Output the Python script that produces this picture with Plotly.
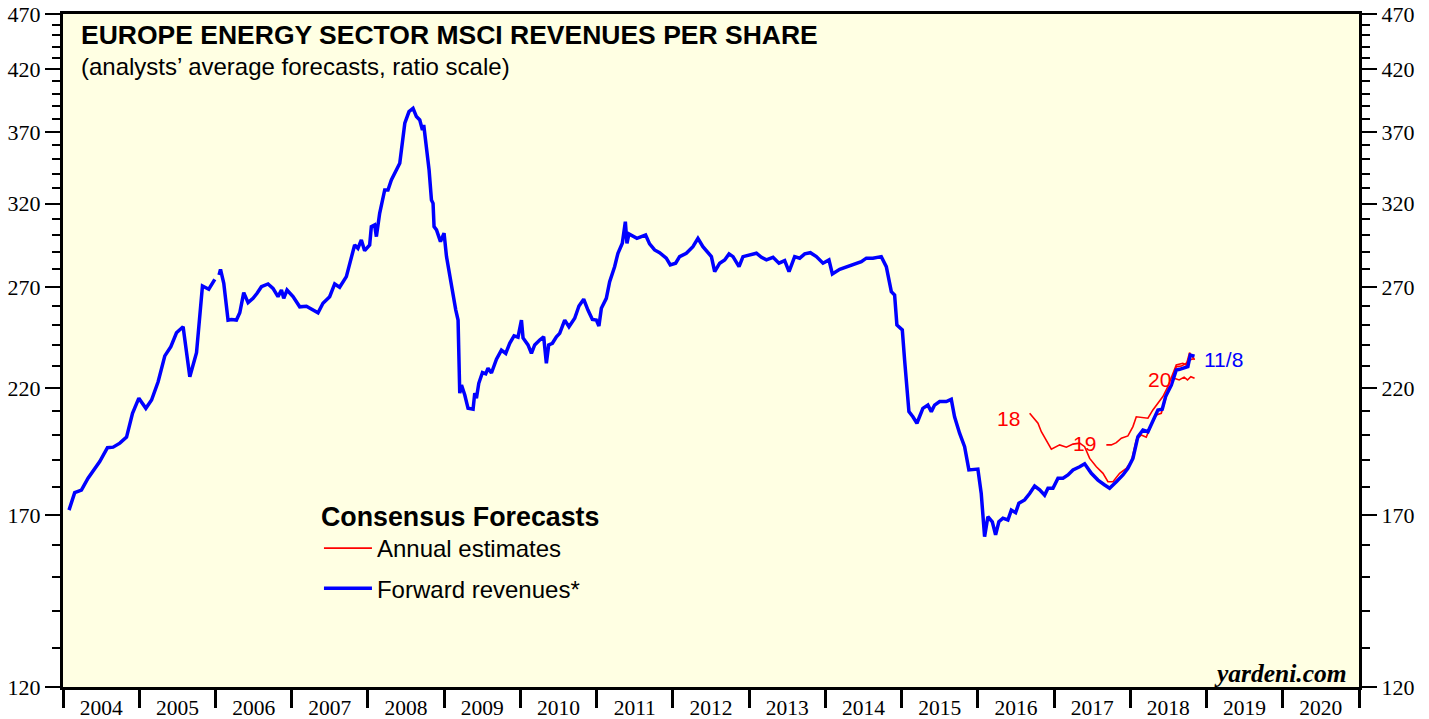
import math
from datetime import datetime
import plotly.graph_objects as go

# Forward revenues (blue), time as decimal year, None = gap in the line
fwd_t = [2004.079, 2004.153, 2004.241, 2004.328, 2004.481, 2004.582, 2004.656, 2004.744,
         2004.832, 2004.910, 2004.993, 2005.085, 2005.160, 2005.246, 2005.334, 2005.413,
         2005.487, 2005.574, 2005.662, 2005.750, 2005.828, 2005.911, 2005.990, None,
         2006.046, 2006.065, 2006.108, 2006.164, 2006.209, 2006.274, 2006.318, 2006.370,
         2006.427, 2006.492, 2006.545, 2006.602, 2006.689, 2006.754, 2006.820, 2006.865,
         2006.895, 2006.938, 2007.017, 2007.105, 2007.193, 2007.279, 2007.345, 2007.410,
         2007.498, 2007.564, 2007.629, 2007.717, 2007.761, 2007.826, 2007.869, 2007.914,
         2007.957, 2008.023, 2008.045, 2008.088, 2008.111, 2008.154, 2008.220, 2008.263,
         2008.307, 2008.350, 2008.417, 2008.483, 2008.538, 2008.591, 2008.635, 2008.679,
         2008.714, 2008.731, 2008.767, 2008.801, 2008.832, 2008.853, 2008.866, 2008.898,
         2008.950, 2008.997, 2009.029, 2009.072, 2009.107, 2009.151, 2009.181, 2009.203,
         2009.226, 2009.269, 2009.312, 2009.378, 2009.400, 2009.422, 2009.453, 2009.501,
         2009.544, 2009.574, 2009.619, 2009.685, 2009.750, 2009.807, 2009.859, 2009.916,
         2009.968, 2010.013, 2010.034, 2010.099, 2010.144, 2010.187, 2010.253, 2010.305,
         2010.340, 2010.371, 2010.419, 2010.472, 2010.515, 2010.581, 2010.637, 2010.712,
         2010.768, 2010.830, 2010.886, 2010.944, 2010.996, 2011.030, 2011.062, 2011.127,
         2011.171, 2011.236, 2011.280, 2011.337, 2011.377, 2011.398, 2011.424, 2011.476,
         2011.529, 2011.587, 2011.643, 2011.695, 2011.761, 2011.827, 2011.914, 2011.967,
         2012.037, 2012.089, 2012.177, 2012.263, 2012.329, 2012.394, 2012.460, 2012.505,
         2012.548, 2012.614, 2012.679, 2012.736, 2012.788, 2012.867, 2012.919, 2013.007,
         2013.095, 2013.161, 2013.226, 2013.313, 2013.391, 2013.466, 2013.523, 2013.597,
         2013.663, 2013.729, 2013.803, 2013.882, 2013.969, 2014.047, 2014.092, 2014.188,
         2014.275, 2014.362, 2014.472, 2014.538, 2014.624, 2014.734, 2014.800, 2014.866,
         2014.909, 2014.939, 2015.010, 2015.040, 2015.097, 2015.149, 2015.202, 2015.280,
         2015.346, 2015.391, 2015.434, 2015.500, 2015.587, 2015.653, 2015.696, 2015.762,
         2015.828, 2015.884, 2016.002, 2016.046, 2016.090, 2016.133, 2016.191, 2016.234,
         2016.277, 2016.330, 2016.395, 2016.440, 2016.496, 2016.539, 2016.614, 2016.680,
         2016.745, 2016.811, 2016.876, 2016.920, 2016.985, 2017.051, 2017.117, 2017.182,
         2017.248, 2017.336, 2017.401, 2017.489, 2017.576, 2017.664, 2017.729, 2017.817,
         2017.904, 2017.969, 2018.035, 2018.100, 2018.166, 2018.232, 2018.297, 2018.363,
         2018.420, 2018.464, 2018.539, 2018.604, 2018.648, 2018.714, 2018.756, 2018.788,
         2018.844]
fwd_v = [171.8, 178.0, 178.9, 183.3, 189.6, 195.0, 195.2, 196.8,
         199.2, 209.1, 215.6, 211.2, 214.8, 222.9, 234.9, 239.3,
         246.2, 249.2, 225.2, 236.4, 270.7, 268.9, 274.4, None,
         276.8, 280.0, 272.2, 252.6, 252.9, 252.6, 256.4, 267.1,
         261.7, 264.0, 266.7, 270.3, 271.8, 269.4, 264.9, 268.5,
         264.0, 268.5, 264.9, 259.5, 259.8, 257.8, 256.4, 261.4,
         264.9, 271.8, 270.0, 275.9, 282.5, 294.2, 292.2, 297.2,
         290.8, 294.2, 305.3, 306.4, 299.2, 313.7, 328.9, 328.9,
         335.7, 340.0, 347.2, 376.6, 385.6, 388.2, 381.7, 379.1,
         371.5, 375.3, 356.7, 342.5, 322.3, 320.1, 305.3, 303.3,
         296.2, 301.3, 287.3, 275.9, 267.6, 257.8, 252.6, 217.8,
         221.4, 217.0, 211.2, 210.8, 217.8, 215.6, 222.2, 227.1,
         226.5, 229.1, 226.9, 233.3, 237.7, 236.1, 241.0, 244.6,
         244.0, 252.6, 243.6, 240.2, 236.1, 240.2, 242.6, 244.2,
         231.4, 240.2, 241.0, 244.2, 245.9, 252.6, 249.2, 253.5,
         259.9, 263.5, 257.8, 252.9, 252.6, 249.6, 258.7, 264.0,
         273.1, 281.5, 289.3, 295.2, 308.4, 295.2, 300.8, 299.2,
         298.2, 299.2, 300.2, 294.8, 291.2, 289.6, 286.4, 282.5,
         283.5, 287.3, 289.3, 293.2, 298.2, 293.2, 289.6, 287.3,
         278.7, 283.5, 285.4, 288.9, 287.3, 281.5, 287.3, 288.3,
         289.3, 286.9, 285.4, 286.9, 283.5, 285.0, 278.7, 287.3,
         286.4, 288.9, 289.6, 287.3, 283.5, 285.4, 277.4, 280.0,
         281.5, 282.5, 284.4, 286.4, 286.4, 287.3, 281.5, 267.6,
         265.8, 250.1, 247.6, 233.0, 209.8, 207.6, 204.9, 211.2,
         212.6, 209.8, 212.6, 214.1, 214.1, 215.1, 207.6, 200.8,
         195.4, 186.4, 186.7, 177.7, 162.8, 169.5, 167.8, 163.4,
         167.8, 169.0, 168.4, 171.8, 170.9, 174.2, 175.4, 177.7,
         180.4, 179.0, 177.1, 179.6, 179.6, 183.3, 183.3, 184.5,
         186.4, 187.6, 188.7, 185.1, 182.6, 180.8, 179.6, 182.0,
         184.5, 187.0, 190.8, 199.4, 202.1, 201.4, 206.3, 210.5,
         210.8, 216.3, 221.4, 228.3, 228.6, 229.5, 229.8, 235.3,
         234.8]

# Annual estimates (red)
est18_t = [2016.680, 2016.723, 2016.789, 2016.833, 2016.899, 2016.964, 2017.073, 2017.161,
           2017.248, 2017.336, 2017.401, 2017.467, 2017.555, 2017.642, 2017.707, 2017.773,
           2017.860, 2017.948, 2018.014, 2018.079, 2018.145, 2018.210, 2018.276, 2018.341,
           2018.407, 2018.473, 2018.551, 2018.604, 2018.670, 2018.735, 2018.778, 2018.844]
est18_v = [209.1, 207.4, 204.9, 201.4, 198.1, 194.4, 196.1, 195.2,
           196.4, 196.8, 195.4, 190.8, 187.6, 185.1, 182.0, 182.0,
           185.1, 187.0, 189.6, 198.1, 200.1, 199.2, 204.2, 208.4,
           209.1, 216.3, 223.7, 229.8, 230.1, 231.4, 233.0, 233.7]
est19_t = [2017.686, 2017.751, 2017.817, 2017.883, 2017.969, 2018.035, 2018.079, 2018.166,
           2018.232, 2018.297, 2018.363, 2018.428, 2018.494, 2018.559, 2018.604, 2018.690,
           2018.735, 2018.778, 2018.844]
est19_v = [196.1, 196.1, 197.0, 198.8, 199.7, 203.5, 207.6, 207.4,
           207.0, 210.5, 213.4, 216.3, 220.7, 226.8, 230.6, 231.4,
           230.6, 236.4, 233.0]
est20_t = [2018.576, 2018.642, 2018.707, 2018.751, 2018.795, 2018.844]
est20_v = [224.5, 223.7, 225.0, 223.7, 225.2, 224.5]

y_major = [120, 170, 220, 270, 320, 370, 420, 470]
y_minor = [v for v in range(120, 471, 10) if v not in y_major]

# series labels: (text, decimal year, value, anchor, colour)
labels = [("18", 2016.575, 206.7, "right", "#FF0000"),
          ("19", 2017.571, 196.7, "right", "#FF0000"),
          ("20", 2018.555, 224.1, "right", "#FF0000"),
          ("11/8", 2018.948, 233.4, "left", "#0000FF")]


def to_date(y):
    if y is None:
        return None
    yr = int(y)
    a = datetime(yr, 1, 1)
    b = datetime(yr + 1, 1, 1)
    return a + (b - a) * (y - yr)


est_t = est18_t + [None] + est19_t + [None] + est20_t
est_v = est18_v + [None] + est19_v + [None] + est20_v

fig = go.Figure()
fig.add_trace(go.Scatter(x=[to_date(t) for t in est_t], y=est_v, mode="lines",
                         name="Annual estimates", connectgaps=False, legendgroup="a",
                         line=dict(color="#FF0000", width=1.6)))
fig.add_trace(go.Scatter(x=[to_date(t) for t in fwd_t], y=fwd_v, mode="lines",
                         name="Forward revenues*", connectgaps=False, legendgroup="b",
                         line=dict(color="#0000FF", width=3.5)))
# empty trace so the right-hand axis gets drawn
fig.add_trace(go.Scatter(x=[to_date(fwd_t[0])], y=[fwd_v[0]], yaxis="y2", mode="lines",
                         showlegend=False, hoverinfo="skip", line=dict(width=0)))

for txt, t, v, anchor, col in labels:
    fig.add_annotation(x=to_date(t), y=math.log10(v), text=txt, showarrow=False,
                       xanchor=anchor, yanchor="middle",
                       font=dict(family="Liberation Sans", size=21, color=col))

fig.add_annotation(xref="paper", yref="paper", x=0.012, y=0.969, xanchor="left",
                   yanchor="middle", showarrow=False,
                   text="<b>EUROPE ENERGY SECTOR MSCI REVENUES PER SHARE</b>",
                   font=dict(family="Liberation Sans", size=26.5, color="black"))
fig.add_annotation(xref="paper", yref="paper", x=0.012, y=0.9227, xanchor="left",
                   yanchor="middle", showarrow=False,
                   text="(analysts\u2019 average forecasts, ratio scale)",
                   font=dict(family="Liberation Sans", size=24, color="black"))
fig.add_annotation(xref="paper", yref="paper", x=0.9925, y=0.0208, xanchor="right",
                   yanchor="middle", showarrow=False, text="<b><i>yardeni.com</i></b>",
                   font=dict(family="Liberation Serif", size=25.5, color="black"))

axis_common = dict(showline=True, linewidth=3, linecolor="black", showgrid=False,
                   zeroline=False, ticks="outside", tickcolor="black", automargin=False,
                   ticklabeloverflow="allow")
yaxis_common = dict(axis_common, type="log", range=[math.log10(120), math.log10(470)],
                    tickmode="array", tickvals=y_major, ticklen=15, tickwidth=2,
                    tickfont=dict(family="Liberation Serif", size=22, color="black"),
                    minor=dict(tickmode="array", tickvals=y_minor, ticklen=8,
                               tickwidth=2, ticks="outside", tickcolor="black",
                               showgrid=False))

fig.update_layout(
    width=1429, height=719,
    margin=dict(l=63, r=70, t=14, b=32),
    paper_bgcolor="white", plot_bgcolor="#FFFFE3",
    xaxis=dict(axis_common, type="date", range=["2004-01-01", "2021-01-01"],
               mirror=True, tick0="2004-01-01", dtick="M12", tickformat="%Y",
               ticklabelmode="period", ticklen=18, tickwidth=2.5,
               ticklabelstandoff=-19,
               tickfont=dict(family="Liberation Serif", size=21.5, color="black")),
    yaxis=dict(yaxis_common, mirror=True, side="left"),
    yaxis2=dict(yaxis_common, overlaying="y", side="right"),
    legend=dict(x=0.1975, y=0.291, xanchor="left", yanchor="top",
                bgcolor="rgba(0,0,0,0)", itemwidth=48, tracegroupgap=6,
                title=dict(text="<b>Consensus Forecasts</b>",
                           font=dict(family="Liberation Sans", size=26.8, color="black")),
                font=dict(family="Liberation Sans", size=24, color="black")),
    showlegend=True,
)

# drop the default 8px page margin so the figure fills the window exactly
fig.write_html("out.html", config={"displayModeBar": False},
               post_script="document.body.style.margin='0';")
